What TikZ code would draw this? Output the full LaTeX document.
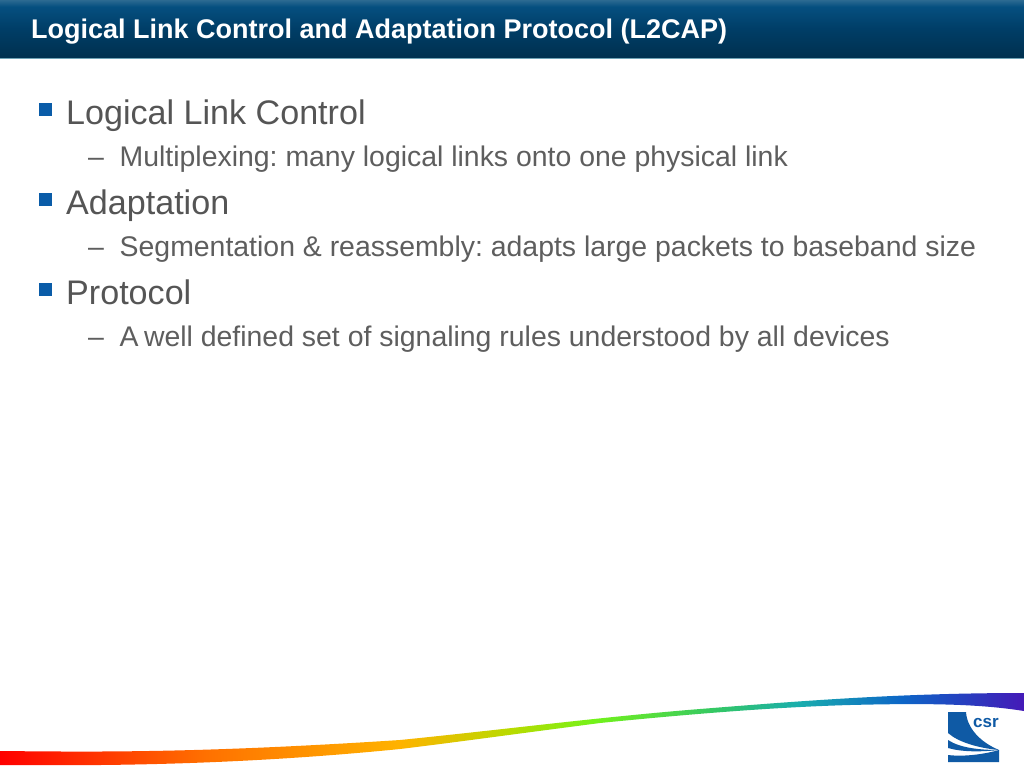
\documentclass[tikz,border=0pt]{standalone}
\usepackage{fontspec}
\setmainfont{Liberation Sans}
\definecolor{bullblue}{HTML}{0A5CA8}
\definecolor{bodygrey}{HTML}{555555}
\definecolor{subgrey}{HTML}{5E5E5E}
\definecolor{logoblue}{HTML}{0F5AA5}
\definecolor{barline}{HTML}{6FA3B5}
\pgfdeclarehorizontalshading{rainbowband}{100bp}{
	rgb(0bp)=(1,0,0);
	rgb(25bp)=(1,0,0);
	rgb(35bp)=(1,.44,0);
	rgb(44.5bp)=(1,.70,0);
	rgb(50bp)=(.72,.86,0);
	rgb(54bp)=(.45,.95,.10);
	rgb(60bp)=(.20,.78,.40);
	rgb(64bp)=(.10,.68,.68);
	rgb(69bp)=(.05,.40,.78);
	rgb(72bp)=(.15,.25,.75);
	rgb(75bp)=(.27,.10,.72);
	rgb(100bp)=(.27,.10,.72)}
\pgfdeclareverticalshading{barshade}{100bp}{
	rgb(0bp)=(0,.19,.31);
	rgb(25bp)=(0,.19,.31);
	rgb(50bp)=(0,.24,.40);
	rgb(70bp)=(.02,.31,.50);
	rgb(75bp)=(.15,.40,.56);
	rgb(100bp)=(.15,.40,.56)}
\begin{document}
\begin{tikzpicture}[x=1pt,y=-1pt,
		titletext/.style={anchor=base west,inner sep=0pt,text=white,font=\fontsize{27}{30}\selectfont\bfseries},
		headtext/.style={anchor=base west,inner sep=0pt,text=bodygrey,font=\fontsize{34.1}{40}\selectfont},
		subtext/.style={anchor=base west,inner sep=0pt,text=subgrey,font=\fontsize{28.42}{34}\selectfont\frenchspacing},
		mybullet/.style={rectangle,fill=bullblue,inner sep=0pt,minimum size=13pt}]
	\useasboundingbox (0,0) rectangle (1024,768);
	\fill[white] (0,0) rectangle (1024,768);

	% title bar
	\shade[shading=barshade] (0,1) rectangle (1024,58);
	\fill[barline] (0,58) rectangle (1024,59);
	\node[titletext] (title) at (31,38) {Logical Link Control and Adaptation Protocol (L2CAP)};

	% bullets
	\node[mybullet] (b1) at (45.5,109) {};
	\node[headtext] (h1) at (66,124) {Logical Link Control};
	\node[subtext] (d1) at (88,166) {–};
	\node[subtext] (s1) at (119.5,166) {Multiplexing: many logical links onto one physical link};
	\node[mybullet] (b2) at (45.5,199) {};
	\node[headtext] (h2) at (66,214) {Adaptation};
	\node[subtext] (d2) at (88,256) {–};
	\node[subtext] (s2) at (119.5,256) {Segmentation \& reassembly: adapts large packets to baseband size};
	\node[mybullet] (b3) at (45.5,289) {};
	\node[headtext] (h3) at (66,304) {Protocol};
	\node[subtext] (d3) at (88,346) {–};
	\node[subtext] (s3) at (119.5,346) {A\kern-2.5pt{} well defined set of signaling rules understood by all devices};

	% rainbow band
	\shade[shading=rainbowband] (0,751) .. controls (100,752) and (200,753) .. (400,740)
		.. controls (500,730) and (600,717) .. (700,709)
		.. controls (800,701) and (900,693) .. (1024,693)
		-- (1024,711) .. controls (980,704) and (930,703) .. (850,705)
		.. controls (780,707) and (700,713) .. (600,723)
		.. controls (500,736) and (450,743) .. (400,749)
		.. controls (300,759) and (200,764) .. (100,765)
		-- (0,765) -- cycle;

	% logo
	\fill[logoblue] (948,712) -- (966,712) .. controls (967,728) and (980,742) .. (999,750)
		.. controls (978,748) and (958,742) .. (948,733) -- cycle;
	\fill[logoblue] (948,740) .. controls (960,748) and (980,750) .. (999,750)
		.. controls (980,752) and (962,752) .. (948,748) -- cycle;
	\fill[logoblue] (948,755) .. controls (965,757) and (985,754) .. (999,750) -- (999,762) -- (948,762) -- cycle;
	\node[anchor=base west,inner sep=0pt,text=logoblue,font=\fontsize{17}{20}\selectfont\bfseries] (logo) at (973,727) {csr};
\end{tikzpicture}
\end{document}
